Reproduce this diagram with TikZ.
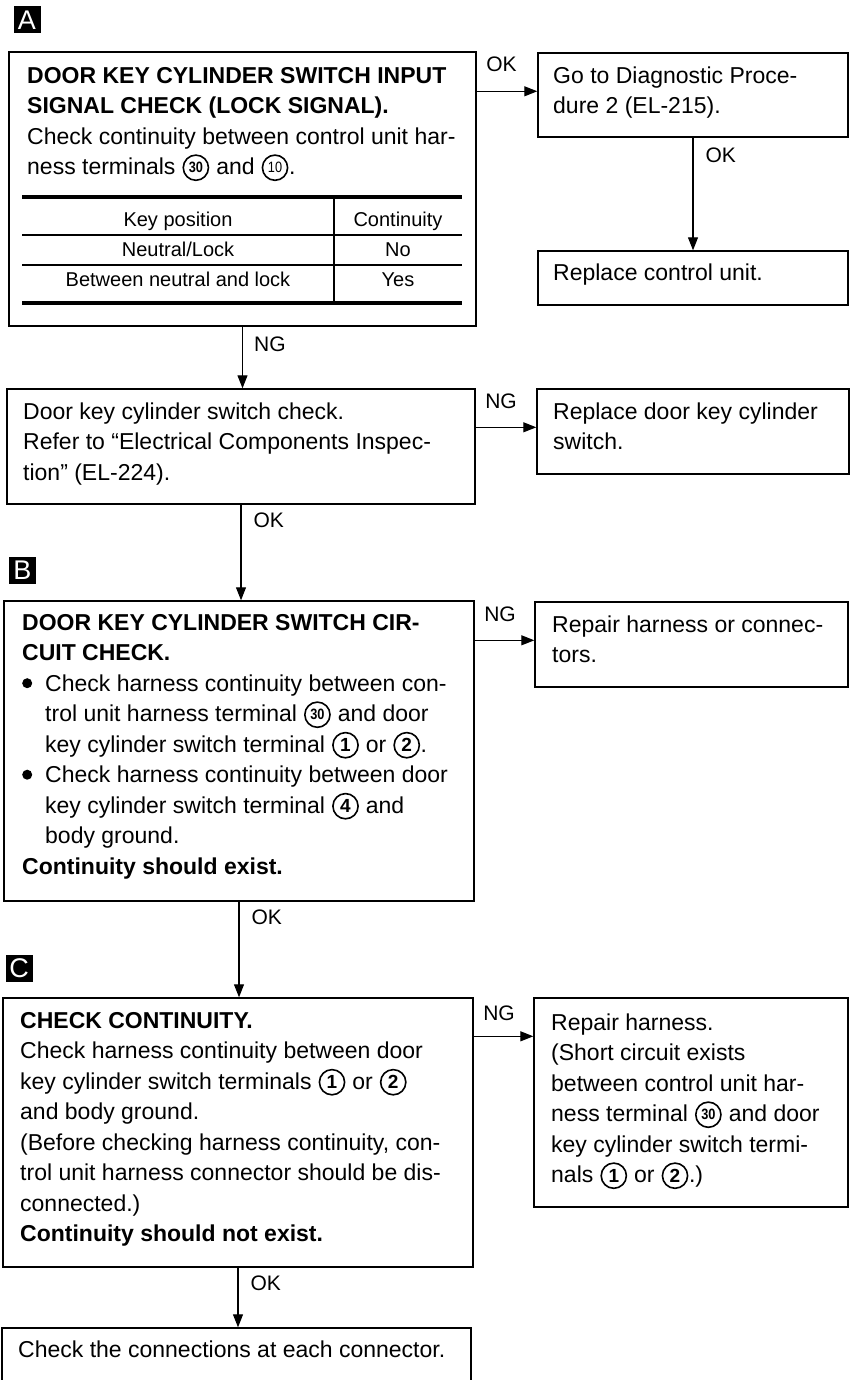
\documentclass[tikz,border=0pt]{standalone}
\usepackage{fontspec}
\setmainfont{Liberation Sans}
\usetikzlibrary{arrows.meta,calc}
\newcommand{\cnum}[2][19]{\tikz[baseline=0pt]{\path[use as bounding box] (-14pt,-6pt) rectangle (14pt,20pt);\draw[line width=1.6pt] (0pt,7pt) circle[radius=12.6pt];\node[inner sep=0pt,anchor=center,font=\bfseries\fontsize{#1}{#1}\selectfont] at (0pt,7pt) {#2};}}
\newcommand{\bul}{\makebox[23pt][l]{\tikz[baseline=0pt]\fill (5pt,8pt) circle[radius=5pt];}}
\newcommand{\ind}{\hspace*{23pt}}
\newcommand{\fst}{\rule{0pt}{20pt}}
\tikzset{
  box/.style={draw, line width=1.4pt, inner sep=0pt},
  txt/.style={anchor=north west, inner sep=0pt, align=left, font=\fontsize{23}{30.5}\selectfont},
  lbl/.style={inner sep=0pt, font=\fontsize{21}{21}\selectfont},
  arr/.style={line width=1.2pt, -{Triangle[length=13pt,width=10pt]}},
  tag/.style={fill=black, text=white, minimum size=27pt, inner sep=0pt, font=\fontsize{27}{27}\selectfont},
  tab/.style={font=\fontsize{20}{20}\selectfont, inner sep=0pt, anchor=base},
  thick rule/.style={line width=4pt},
  thin rule/.style={line width=1.3pt}
}
\begin{document}
\begin{tikzpicture}[x=1pt,y=-1pt]
\useasboundingbox (0,0) rectangle (855,1380);
\fill[white] (0,0) rectangle (855,1380);
\begin{scope}
\clip (0,0) rectangle (855,1380);
% section tags
\node[tag] (tagA) at (27,20) {A};
\node[tag] (tagB) at (22.5,570) {B};
\node[tag] (tagC) at (19,968) {C};

% boxes
\node[box, minimum width=467pt, minimum height=274pt] (bA) at (242.5,189) {};
\node[box, minimum width=310pt, minimum height=84pt] (goto) at (693,95) {};
\node[box, minimum width=310pt, minimum height=54pt] (rcu) at (693,278) {};
\node[box, minimum width=468pt, minimum height=115pt] (dk) at (241,446.5) {};
\node[box, minimum width=312pt, minimum height=85pt] (rd) at (693,431.5) {};
\node[box, minimum width=470pt, minimum height=300pt] (bB) at (239,751) {};
\node[box, minimum width=313pt, minimum height=85pt] (rhc) at (691.5,644.5) {};
\node[box, minimum width=470pt, minimum height=269pt] (bC) at (238,1132.5) {};
\node[box, minimum width=314pt, minimum height=209pt] (rh) at (691,1102.5) {};
\node[box, minimum width=469pt, minimum height=60pt] (fin) at (236.5,1358) {};

% texts
\node[txt] (tA) at (27,63) {\fst\textbf{DOOR KEY CYLINDER SWITCH INPUT}\\
\textbf{SIGNAL CHECK (LOCK SIGNAL).}\\
Check continuity between control unit har-\\
ness terminals \cnum[15]{\scalebox{0.85}[1]{30}} and \cnum[15]{\mdseries\scalebox{0.85}[1]{10}}.};

\draw[thick rule] (22,197) -- (462,197);
\draw[thin rule] (22,235) -- (462,235);
\draw[thin rule] (22,265) -- (462,265);
\draw[thick rule] (22,303) -- (462,303);
\draw[thin rule] (334,197) -- (334,303);
\node[tab] (h1) at (178,227) {Key position};
\node[tab] (h2) at (398,227) {Continuity};
\node[tab] (r1a) at (178,256) {Neutral/Lock};
\node[tab] (r1b) at (398,256) {No};
\node[tab] (r2a) at (178,286) {Between neutral and lock};
\node[tab] (r2b) at (398,286) {Yes};

\node[txt] (tgoto) at (553,63) {\fst Go to Diagnostic Proce-\\dure 2 (EL-215).};
\node[txt] (trcu) at (553,260) {\fst Replace control unit.};
\node[txt] (tdk) at (23,399) {\fst Door key cylinder switch check.\\
Refer to “Electrical Components Inspec-\\
tion” (EL-224).};
\node[txt] (trd) at (553,399) {\fst Replace door key cylinder\\switch.};

\node[txt] (tB) at (22,610) {\fst\textbf{DOOR KEY CYLINDER SWITCH CIR-}\\
\textbf{CUIT CHECK.}\\
\bul Check harness continuity between con-\\
\ind trol unit harness terminal \cnum[15]{\scalebox{0.85}[1]{30}} and door\\
\ind key cylinder switch terminal \cnum{1} or \cnum{2}.\\
\bul Check harness continuity between door\\
\ind key cylinder switch terminal \cnum{4} and\\
\ind body ground.\\
\textbf{Continuity should exist.}};
\node[txt] (trhc) at (552,612) {\fst Repair harness or connec-\\tors.};

\node[txt] (tC) at (20,1008) {\fst\textbf{CHECK CONTINUITY.}\\
Check harness continuity between door\\
key cylinder switch terminals \cnum{1} or \cnum{2}\\
and body ground.\\
(Before checking harness continuity, con-\\
trol unit harness connector should be dis-\\
connected.)\\
\textbf{Continuity should not exist.}};
\node[txt] (trh) at (551,1010) {\fst Repair harness.\\
(Short circuit exists\\
between control unit har-\\
ness terminal \cnum[15]{\scalebox{0.85}[1]{30}} and door\\
key cylinder switch termi-\\
nals \cnum{1} or \cnum{2}.)};
\node[txt] (tfin) at (18,1337) {\fst Check the connections at each connector.};

% connectors
\draw[arr] ([yshift=-40pt]bA.north east) -- node[lbl, at start, anchor=south west, xshift=9pt, yshift=19pt] (okA) {OK} ([yshift=-40pt]bA.north east -| goto.west);
\draw[arr] (goto.south) -- node[lbl, at start, anchor=north west, xshift=12pt, yshift=-10pt] (okG) {OK} (rcu.north);
\draw[arr] (bA.south) -- node[lbl, at start, anchor=north west, xshift=11pt, yshift=-10pt] (ngA) {NG} (bA.south |- dk.north);
\draw[arr] ([yshift=-39pt]dk.north east) -- node[lbl, at start, anchor=south west, xshift=9pt, yshift=18pt] (ngD) {NG} ([yshift=-39pt]dk.north east -| rd.west);
\draw[arr] (dk.south) -- node[lbl, at start, anchor=north west, xshift=12pt, yshift=-8pt] (okD) {OK} (dk.south |- bB.north);
\draw[arr] ([yshift=-40pt]bB.north east) -- node[lbl, at start, anchor=south west, xshift=9pt, yshift=18pt] (ngB) {NG} ([yshift=-40pt]bB.north east -| rhc.west);
\draw[arr] (bB.south) -- node[lbl, at start, anchor=north west, xshift=12pt, yshift=-8pt] (okB) {OK} (bB.south |- bC.north);
\draw[arr] ([yshift=-39pt]bC.north east) -- node[lbl, at start, anchor=south west, xshift=9pt, yshift=15pt] (ngC) {NG} ([yshift=-39pt]bC.north east -| rh.west);
\draw[arr] (bC.south) -- node[lbl, at start, anchor=north west, xshift=12pt, yshift=-8pt] (okC) {OK} (bC.south |- fin.north);
\end{scope}
\end{tikzpicture}
\end{document}
